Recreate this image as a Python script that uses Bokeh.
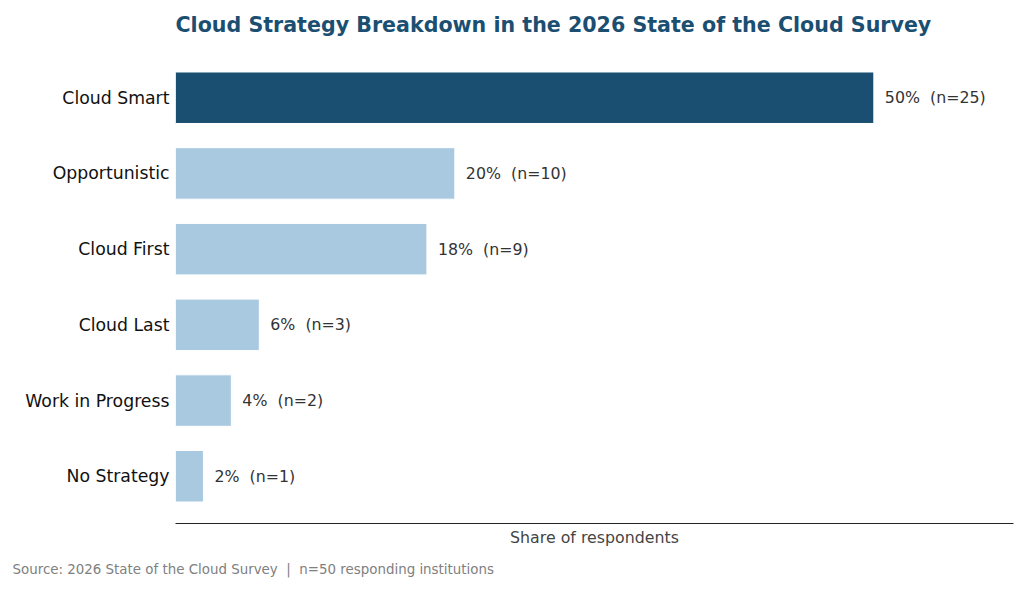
from bokeh.plotting import figure
from bokeh.models import FactorRange, Range1d, Title, ColumnDataSource
from bokeh.core.properties import value
from bokeh.embed import file_html
from bokeh.resources import INLINE

categories = ["Cloud Smart", "Opportunistic", "Cloud First", "Cloud Last", "Work in Progress", "No Strategy"]
shares = [50, 20, 18, 6, 4, 2]
counts = [25, 10, 9, 3, 2, 1]
total_n = 50

title_text = "Cloud Strategy Breakdown in the 2026 State of the Cloud Survey"
x_label = "Share of respondents"
source_text = f"Source: 2026 State of the Cloud Survey \u00a0|\u00a0 n={total_n} responding institutions"

DARK = "#1b4f72"
LIGHT = "#a9c9e0"
FONT = "DejaVu Sans"

colors = [DARK if s == max(shares) else LIGHT for s in shares]
labels = [f"{s}%\u00a0 (n={n})" for s, n in zip(shares, counts)]

src = ColumnDataSource(dict(cat=categories, share=shares, color=colors, label=labels))

y_range = FactorRange(factors=list(reversed(categories)), range_padding=0.0413, range_padding_units="percent")

p = figure(width=1016, height=589, y_range=y_range, x_range=Range1d(0, max(shares) * 1.2),
           output_backend="svg", toolbar_location=None,
           min_border_left=175, min_border_right=3, min_border_top=50, min_border_bottom=66)
p.title = None
p.outline_line_color = None
p.grid.visible = False
p.background_fill_color = "white"
p.border_fill_color = "white"

p.hbar(y="cat", right="share", left=0, height=0.68, fill_color="color",
       line_color="white", line_width=1, source=src)

p.text(x="share", y="cat", text="label", source=src, x_offset=11,
       text_font=value(FONT), text_font_size="15.8px", text_color="#333333",
       text_baseline="middle", text_align="left")

# y axis
p.yaxis.axis_line_color = None
p.yaxis.major_tick_line_color = None
p.yaxis.minor_tick_line_color = None
p.yaxis.major_tick_out = 0
p.yaxis.major_label_standoff = 6
p.yaxis.major_label_text_font = FONT
p.yaxis.major_label_text_font_size = "17.3px"
p.yaxis.major_label_text_color = "#111111"

# x axis
p.xaxis.ticker = []
p.xaxis.major_tick_out = 0
p.xaxis.major_tick_in = 0
p.xaxis.minor_tick_out = 0
p.xaxis.minor_tick_in = 0
p.xaxis.major_label_standoff = 0
p.xaxis.axis_line_color = "#222222"
p.xaxis.axis_line_width = 1.2
p.xaxis.axis_label = x_label
p.xaxis.axis_label_standoff = 4
p.xaxis.axis_label_text_font = FONT
p.xaxis.axis_label_text_font_size = "15.8px"
p.xaxis.axis_label_text_font_style = "normal"
p.xaxis.axis_label_text_color = "#444444"

p.add_layout(Title(text=title_text, align="left", standoff=23, vertical_align="top",
                   text_font=FONT, text_font_size="20.6px", text_font_style="bold",
                   text_color=DARK), "above")

p.add_layout(Title(text=source_text, align="left", offset=-163, standoff=21,
                   text_font=FONT, text_font_size="13.4px", text_font_style="normal",
                   text_color="#808080"), "below")

open("out.html", "w").write(file_html(p, INLINE))
